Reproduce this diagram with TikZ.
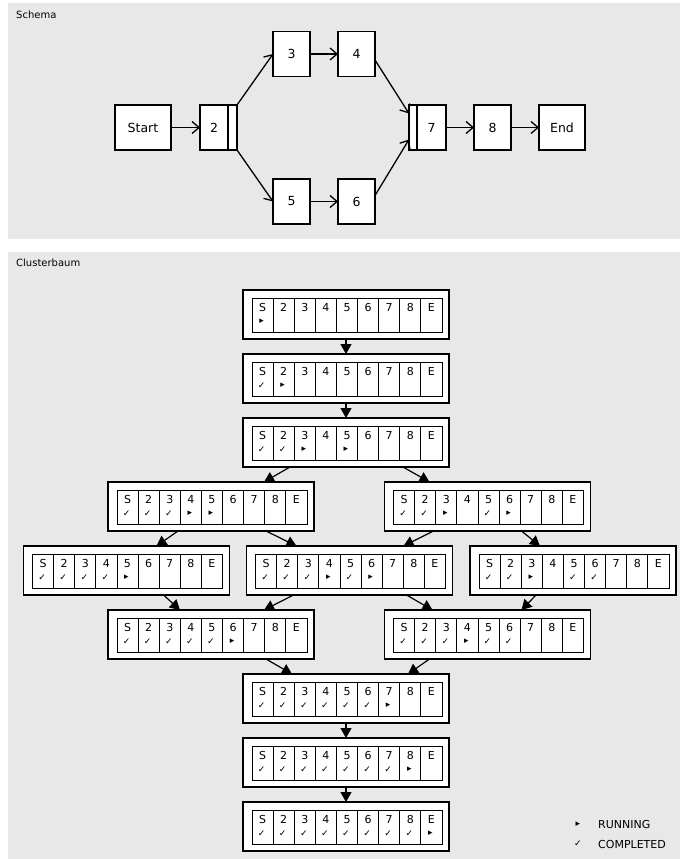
\documentclass[tikz,border=0pt]{standalone}
\usepackage{fontspec}
\setmainfont{DejaVu Sans}
\usetikzlibrary{arrows.meta, positioning}
\definecolor{panelgray}{HTML}{E8E8E8}

\newcommand{\celltext}[1]{\ifcase#1\or S\or 2\or 3\or 4\or 5\or 6\or 7\or 8\or E\fi}
\newcommand{\markr}{{\fontsize{9}{9}\selectfont ▸}}
\newcommand{\markc}{{\fontsize{9}{9}\selectfont ✓}}
\newcommand{\clusterstate}[3]{%
  \node[statebox, #2] (#1) {};
  \foreach \m [count=\i] in {#3} {
    \pgfmathsetmacro\cx{9+(\i-0.5)*21.11}
    \node[cellbox] (#1c\i) at ([xshift=\cx pt, yshift=-0.5pt]#1.west) {};
    \node[celllabel] (#1l\i) at ([yshift=-9.5pt]#1c\i.north) {\celltext{\i}};
    \if n\m\else
      \node[cellmark] (#1m\i) at ([xshift=-1pt, yshift=-24pt]#1c\i.north) {\csname mark\m\endcsname};
    \fi
  }
}

\begin{document}
\begin{tikzpicture}[
    x=1pt, y=-1pt,
    panel/.style={fill=panelgray},
    paneltext/.style={anchor=west, inner sep=0pt, font=\fontsize{10}{12}\selectfont},
    sbox/.style={rectangle, draw, fill=white, line width=1.4pt, minimum width=37pt, minimum height=45pt, inner sep=0pt, outer sep=0pt, font=\fontsize{12.5}{15}\selectfont},
    sflow/.style={-{Straight Barb[length=7pt, width=12pt]}, line width=1.3pt},
    statebox/.style={rectangle, draw, fill=white, line width=1.1pt, minimum width=206pt, minimum height=49pt, inner sep=0pt, outer sep=0pt},
    cellbox/.style={rectangle, draw, fill=white, line width=0.8pt, minimum width=21.11pt, minimum height=34pt, inner sep=0pt},
    celllabel/.style={inner sep=0pt, font=\fontsize{11}{13}\selectfont},
    cellmark/.style={inner sep=0pt},
    flow/.style={-{Triangle[length=10pt, width=11pt]}, line width=1.2pt},
    legendtext/.style={anchor=west, inner sep=0pt, font=\fontsize{11}{13}\selectfont}
]
\useasboundingbox (0,0) rectangle (681,859);
\fill[panel] (8,3) rectangle (680,239);
\fill[panel] (8,252) rectangle (680,859);

\node[paneltext] (schemalbl) at (16,15) {Schema};
\node[sbox, minimum width=56pt] (start) at (143,127.5) {Start};
\node[sbox, minimum width=28pt, right=29pt of start] (s2) {2};
\node[sbox, minimum width=9pt, right=0pt of s2] (s2bar) {};
\node[sbox] (s3) at (291.5,54) {3};
\node[sbox, right=28pt of s3] (s4) {4};
\node[sbox] (s5) at (291.5,201.5) {5};
\node[sbox, right=28pt of s5] (s6) {6};
\node[sbox, minimum width=8pt] (s7bar) at (413,127.5) {};
\node[sbox, minimum width=29pt, right=0pt of s7bar] (s7) {7};
\node[sbox, right=28pt of s7] (s8) {8};
\node[sbox, minimum width=46pt, right=28pt of s8] (fin) {End};

\draw[sflow] (start) -- (s2);
\draw[sflow] (s2bar.north east) -- (s3.west);
\draw[sflow] (s2bar.south east) -- (s5.west);
\draw[sflow] (s3) -- (s4);
\draw[sflow] (s5) -- (s6);
\draw[sflow] ([yshift=-6pt]s4.east) -- ([yshift=14pt]s7bar.west);
\draw[sflow] ([yshift=6pt]s6.east) -- ([yshift=-12pt]s7bar.west);
\draw[sflow] (s7) -- (s8);
\draw[sflow] (s8) -- (fin);

\node[paneltext] (clusterlbl) at (16,263) {Clusterbaum};
\clusterstate{r1}{at={(346,314.5)}}{r,n,n,n,n,n,n,n,n}
\clusterstate{r2}{below=15pt of r1}{c,r,n,n,n,n,n,n,n}
\clusterstate{r3}{below=15pt of r2}{c,c,r,n,r,n,n,n,n}
\clusterstate{r4l}{below=15pt of r3, xshift=-135pt}{c,c,c,r,r,n,n,n,n}
\clusterstate{r4r}{below=15pt of r3, xshift=141.5pt}{c,c,r,n,c,r,n,n,n}
\clusterstate{r5l}{below=15pt of r4l, xshift=-84.5pt}{c,c,c,c,r,n,n,n,n}
\clusterstate{r5m}{below=15pt of r4l, xshift=138.5pt}{c,c,c,r,c,r,n,n,n}
\clusterstate{r5r}{below=15pt of r4r, xshift=85.5pt}{c,c,r,n,c,c,n,n,n}
\clusterstate{r6l}{below=15pt of r5m, xshift=-138.5pt}{c,c,c,c,c,r,n,n,n}
\clusterstate{r6r}{below=15pt of r5m, xshift=138pt}{c,c,c,r,c,c,n,n,n}
\clusterstate{r7}{below=15pt of r6l, xshift=135pt}{c,c,c,c,c,c,r,n,n}
\clusterstate{r8}{below=15pt of r7}{c,c,c,c,c,c,c,r,n}
\clusterstate{r9}{below=15pt of r8}{c,c,c,c,c,c,c,c,r}

\foreach \a/\da/\b/\db in {r1/0/r2/0, r2/0/r3/0, r3/-56/r4l/53, r3/57/r4r/-58,
    r4l/-33/r5l/30, r4l/55/r5m/-53, r4r/-54/r5m/54, r4r/34/r5r/-33,
    r5l/37/r6l/-31, r5m/-56/r6l/53, r5m/57/r6r/-55, r5r/-37/r6r/34,
    r6l/55/r7/-54, r6r/-58/r7/62, r7/0/r8/0, r8/0/r9/0}
  \draw[flow] ([xshift=\da pt]\a.south) -- ([xshift=\db pt]\b.north);

\node[cellmark] (legrun) at (578,824) {\markr};
\node[legendtext] (legruntext) at (598,824) {RUNNING};
\node[cellmark] (legdone) at (578,844) {\markc};
\node[legendtext] (legdonetext) at (598,844) {COMPLETED};
\end{tikzpicture}
\end{document}
